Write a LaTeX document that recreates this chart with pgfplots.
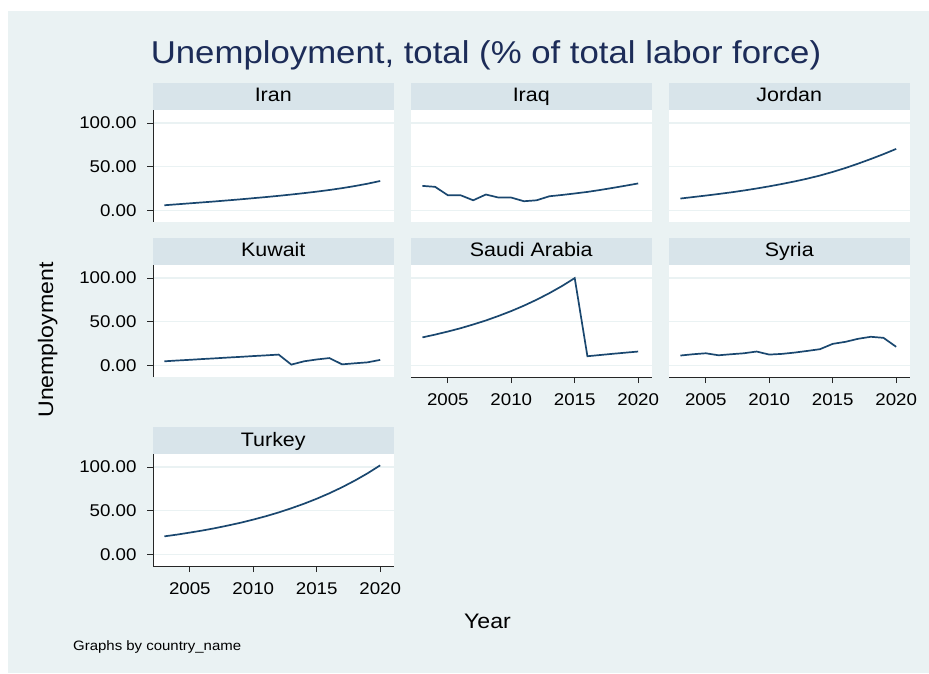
\documentclass[border=0pt]{standalone}
\usepackage{fontspec}
\setmainfont{Liberation Sans}[FakeStretch=1.1]
\usepackage{pgfplots}
\pgfplotsset{compat=1.18}

\definecolor{bgc}{RGB}{234,242,243}
\definecolor{stripc}{RGB}{216,228,234}
\definecolor{gridc}{RGB}{234,242,243}
\definecolor{linec}{RGB}{26,71,111}
\definecolor{titlec}{RGB}{28,44,88}

\pgfplotsset{
  panel/.style={
    scale only axis, width=240.5pt, height=112pt, anchor=south west,
    xmin=2002.1, xmax=2021.05, ymin=-13.4, ymax=115,
    axis background/.style={fill=white},
    axis lines*=left,
    axis line style={-, black!85, line width=0.8pt},
    xtick={2005,2010,2015,2020}, ytick={0,50,100},
    ymajorgrids, grid style={gridc, line width=1.6pt},
    tick align=outside, major tick length=6pt,
    tick style={black!85, line width=0.8pt},
    /pgf/number format/assume math mode=true,
    ticklabel style={font=\fontsize{17}{19}\selectfont},
    xticklabel style={/pgf/number format/set thousands separator={}, yshift=-7pt},
    yticklabel style={xshift=-7pt},
    yticklabel={\pgfmathprintnumber[fixed,fixed zerofill,precision=2]{\tick}},
  },
  nox/.style={xtick=\empty, x axis line style={draw=none}},
  noy/.style={yticklabels={}, ytick style={draw=none}, y axis line style={draw=none}},
}

% #1 left, #2 bottom of plot area (pt), #3 strip text, #4 options, #5 data
\newcommand{\panel}[5]{%
  \fill[stripc] (#1pt,#2pt+112pt) rectangle ++(240.5pt,27pt);
  \node[anchor=base, inner sep=0, font=\fontsize{19.5}{21}\selectfont] at (#1pt+120.25pt,#2pt+120pt) {#3};
  \begin{axis}[panel, at={(#1pt,#2pt)}, #4]
    \addplot[color=linec, line width=1.7pt] coordinates {#5};
  \end{axis}}

\begin{document}
\begin{tikzpicture}
\path[use as bounding box] (0pt,0pt) rectangle (929pt,673pt);
\fill[white] (0pt,0pt) rectangle (929pt,673pt);
\fill[bgc] (8pt,0pt) rectangle (929pt,662pt);

\node[anchor=base, inner sep=0, text=titlec, font=\fontsize{31.6}{34}\selectfont]
  at (486pt,609pt) {Unemployment, total (\% of total labor force)};

\panel{153}{451}{Iran}{nox}{
  (2003,5.8) (2004,6.9) (2005,8.0) (2006,9.1) (2007,10.2) (2008,11.4)
  (2009,12.6) (2010,13.9) (2011,15.2) (2012,16.6) (2013,18.1) (2014,19.7)
  (2015,21.4) (2016,23.3) (2017,25.4) (2018,27.8) (2019,30.5) (2020,33.6)}

\panel{411}{451}{Iraq}{nox,noy}{
  (2003,28.0) (2004,26.9) (2005,17.3) (2006,17.3) (2007,11.5) (2008,18.1)
  (2009,14.6) (2010,14.6) (2011,10.4) (2012,11.5) (2013,16.1) (2014,17.6)
  (2015,19.3) (2016,21.1) (2017,23.3) (2018,25.7) (2019,28.2) (2020,30.8)}

\panel{669}{451}{Jordan}{nox,noy}{
  (2003,13.5) (2004,15.2) (2005,16.9) (2006,18.7) (2007,20.6) (2008,22.7)
  (2009,25.0) (2010,27.5) (2011,30.2) (2012,33.1) (2013,36.3) (2014,39.9)
  (2015,44.0) (2016,48.5) (2017,53.5) (2018,58.8) (2019,64.4) (2020,70.4)}

\panel{153}{296}{Kuwait}{nox}{
  (2003,4.6) (2004,5.5) (2005,6.3) (2006,7.2) (2007,8.0) (2008,8.9)
  (2009,9.7) (2010,10.6) (2011,11.4) (2012,12.3) (2013,0.8) (2014,4.6)
  (2015,6.7) (2016,8.3) (2017,1.1) (2018,2.3) (2019,3.4) (2020,6.2)}

\panel{411}{296}{Saudi Arabia}{noy}{
  (2003,32.0) (2004,35.2) (2005,38.7) (2006,42.5) (2007,46.8) (2008,51.4)
  (2009,56.6) (2010,62.2) (2011,68.4) (2012,75.2) (2013,82.7) (2014,90.9)
  (2015,100.0) (2016,10.4) (2017,11.8) (2018,13.2) (2019,14.5) (2020,15.8)}

\panel{669}{296}{Syria}{noy}{
  (2003,11.2) (2004,12.7) (2005,13.8) (2006,11.5) (2007,12.7) (2008,13.8)
  (2009,15.8) (2010,12.3) (2011,13.1) (2012,14.6) (2013,16.5) (2014,18.5)
  (2015,24.6) (2016,26.9) (2017,30.4) (2018,32.7) (2019,31.5) (2020,21.2)}

\panel{153}{107}{Turkey}{}{
  (2003,20.6) (2004,22.6) (2005,24.9) (2006,27.3) (2007,30.0) (2008,33.0)
  (2009,36.2) (2010,39.8) (2011,43.7) (2012,48.0) (2013,52.8) (2014,58.0)
  (2015,63.7) (2016,70.0) (2017,76.9) (2018,84.5) (2019,92.8) (2020,102.0)}

\node[rotate=90, anchor=base, inner sep=0, font=\fontsize{21}{23}\selectfont]
  at (53pt,333pt) {Unemployment};
\node[anchor=base, inner sep=0, font=\fontsize{21}{23}\selectfont]
  at (487.5pt,45pt) {Year};
\node[anchor=base west, inner sep=0, font=\fontsize{13.6}{15}\selectfont]
  at (73pt,22.5pt) {Graphs by country\_name};
\end{tikzpicture}
\end{document}
